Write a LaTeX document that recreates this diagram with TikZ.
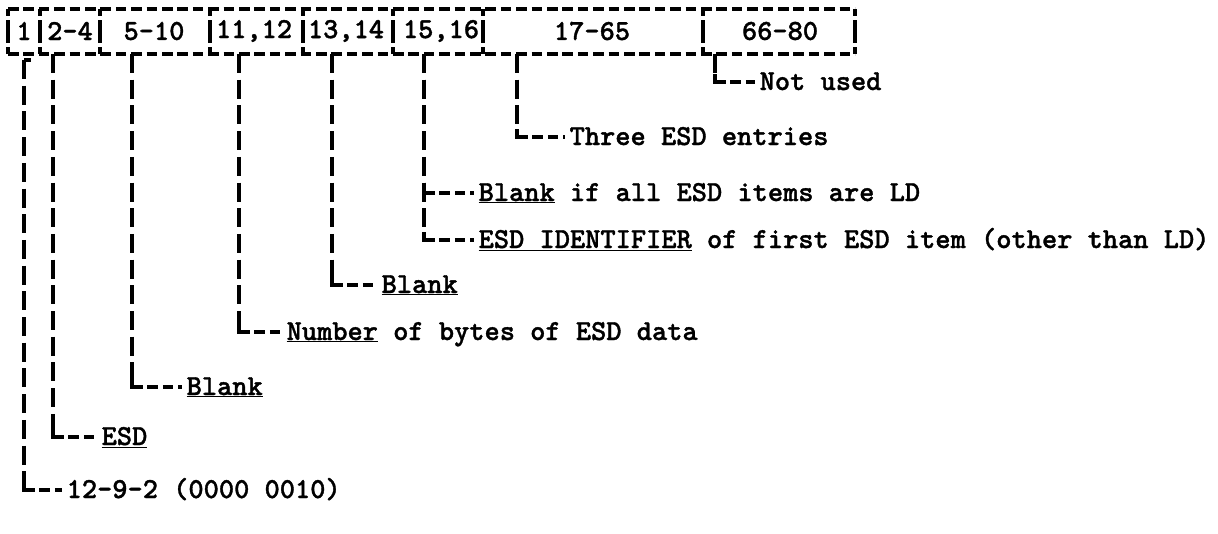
\documentclass[tikz,border=0pt]{standalone}
\usepackage{fontspec}
\newfontfamily\typer{lmmonolt10-bold.otf}[FakeBold=1.2]
\begin{document}
\begin{tikzpicture}[x=1pt, y=-1pt, line width=3.3pt,
	hdash/.style={dash pattern=on 10.5pt off 4.9pt},
	vdash/.style={dash pattern=on 19pt off 6.7pt},
	sepbar/.style={dash pattern=on 7pt off 4pt on 23pt off 4pt on 8pt},
	typed/.style={font=\fontsize{29}{30}\selectfont\typer, inner sep=0pt},
	lab/.style={typed, anchor=west, text height=16pt, text depth=0pt}]
	\useasboundingbox (0,0) rectangle (1218,533);
	% card columns
	\draw[hdash] (8,9) -- (855,9);
	\draw[hdash] (8,54) -- (855,54);
	\foreach \x in {8,40,100,210,303,393,483,703,855} \draw[sepbar] (\x,9) -- (\x,54);
	\node[typed] (n1) at (24,31) {1};
	\node[typed] (n24) at (70,31) {2-4};
	\node[typed] (n510) at (154,31) {5-10};
	\node[typed] (n1112) at (254,31) {11,12};
	\node[typed] (n1314) at (346,31) {13,14};
	\node[typed] (n1516) at (441,31) {15,16};
	\node[typed] (n1765) at (592,31) {17-65};
	\node[typed] (n6680) at (780,31) {66-80};
	% where the leaders start
	\coordinate (t1) at (24,60); \coordinate (t2) at (53,54);
	\coordinate (t3) at (132,54); \coordinate (t4) at (239,54);
	\coordinate (t5) at (332,54); \coordinate (t6) at (424,54);
	\coordinate (t7) at (517,54); \coordinate (t8) at (715,54);
	\draw (t1) -- ++(7,0);
	% what the columns hold
	\node[lab] (l8) at (758,82) {Not used};
	\node[lab] (l7) at (568,137) {Three ESD entries};
	\node[lab] (l6a) at (477,193) {\underline{Blank} if all ESD items are LD};
	\node[lab] (l6b) at (477,240) {\underline{ESD IDENTIFIER} of first ESD item (other than LD)};
	\node[lab] (l5) at (380,285) {\underline{Blank}};
	\node[lab] (l4) at (285,332) {\underline{Number} of bytes of ESD data};
	\node[lab] (l3) at (185,387) {\underline{Blank}};
	\node[lab] (l2) at (100,437) {\underline{ESD}};
	\node[lab] (l1) at (65,490) {12-9-2 (0000 0010)};
	\foreach \t/\l in {t1/l1,t2/l2,t3/l3,t4/l4,t5/l5,t6/l6b,t6/l6a,t7/l7,t8/l8} {
		\draw[vdash] (\t) -- (\t |- \l.west);
		\draw[hdash] (\t |- \l.west) -- ([xshift=-3pt]\l.west);
		\draw ([yshift=8pt]\t |- \l.west) |- ++(7,8);
	}
\end{tikzpicture}
\end{document}
